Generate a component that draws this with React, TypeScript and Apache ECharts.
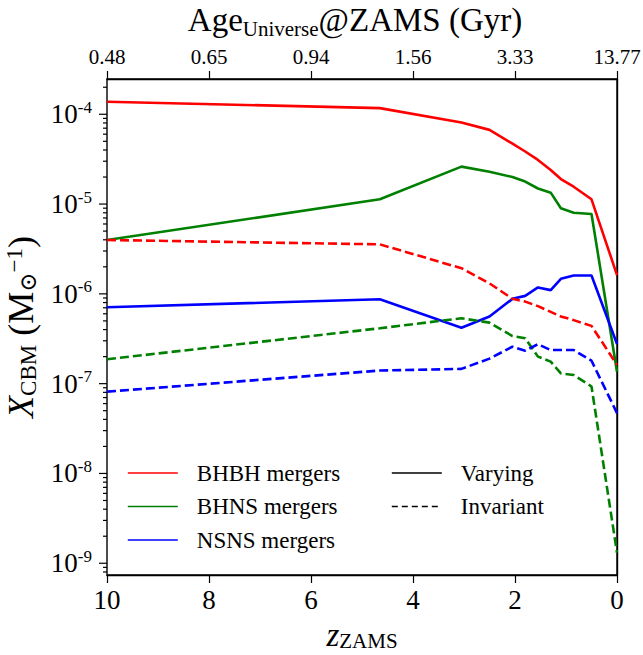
import React, { useEffect, useRef } from 'react';
import * as echarts from 'echarts';

// redshift at ZAMS of each sampled point
const zValues = [10, 4.65, 3.05, 2.5, 2.05, 1.8, 1.55, 1.3, 1.1, 0.85, 0.5, 0];

// X_CBM (Msun^-1)
const bhbhVarying = [1.38e-4, 1.17e-4, 8.1e-5, 6.7e-5, 4.7e-5, 3.85e-5, 3.1e-5, 2.4e-5, 1.9e-5, 1.56e-5, 1.13e-5, 1.62e-6];
const bhnsVarying = [3.98e-6, 1.13e-5, 2.61e-5, 2.29e-5, 2.0e-5, 1.78e-5, 1.49e-5, 1.34e-5, 8.97e-6, 8.0e-6, 7.76e-6, 1.36e-7];
const nsnsVarying = [7.1e-7, 8.7e-7, 4.2e-7, 5.6e-7, 8.8e-7, 9.5e-7, 1.18e-6, 1.1e-6, 1.47e-6, 1.6e-6, 1.6e-6, 2.77e-7];
const bhbhInvariant = [3.98e-6, 3.56e-6, 1.93e-6, 1.31e-6, 8.8e-7, 8.2e-7, 7.3e-7, 6.3e-7, 5.6e-7, 5.1e-7, 4.4e-7, 1.62e-7];
const bhnsInvariant = [1.87e-7, 4.14e-7, 5.35e-7, 4.78e-7, 3.39e-7, 3.2e-7, 2.0e-7, 1.76e-7, 1.3e-7, 1.25e-7, 9.3e-8, 1.31e-9];
const nsnsInvariant = [8.15e-8, 1.4e-7, 1.46e-7, 1.9e-7, 2.58e-7, 2.33e-7, 2.75e-7, 2.37e-7, 2.37e-7, 2.37e-7, 1.8e-7, 4.7e-8];

// axis ticks
const zTicks = [10, 8, 6, 4, 2, 0];
const ageTickLabels = ['0.48', '0.65', '0.94', '1.56', '3.33', '13.77'];
const yMin = 7.4e-10;
const yMax = 2.47e-4;
const majorDecades = [-9, -8, -7, -6, -5, -4];
const minorDecades = [-10, -9, -8, -7, -6, -5, -4];
const minorMultipliers = [2, 3, 4, 5, 6, 7, 8, 9];

const serif = 'Liberation Serif, DejaVu Serif, serif';

function richSet(main: number, small: number, subPad: number, supPad: number) {
  return {
    n: { fontSize: main, fontFamily: serif, color: '#000', lineHeight: main },
    it: { fontSize: main, fontFamily: serif, fontStyle: 'italic', color: '#000', lineHeight: main },
    sub: { fontSize: small, fontFamily: serif, color: '#000', lineHeight: small, padding: [subPad, 0, 0, 0] },
    sup: { fontSize: small, fontFamily: serif, color: '#000', lineHeight: small, padding: [0, 0, supPad, 0] },
  };
}

export default function App() {
  const ref = useRef<HTMLDivElement>(null);

  useEffect(() => {
    if (!ref.current) return;
    const chart = echarts.init(ref.current, null, { renderer: 'svg' });

    const tickMarks: number[][] = [];
    majorDecades.forEach((d) => tickMarks.push([10, Math.pow(10, d), 8]));
    minorDecades.forEach((d) =>
      minorMultipliers.forEach((m) => {
        const v = m * Math.pow(10, d);
        if (v > yMin && v < yMax) tickMarks.push([10, v, 4]);
      })
    );

    const line = (name: string, data: number[], color: string, dashed: boolean) => ({
      type: 'line',
      name,
      data: zValues.map((z, i) => [z, data[i]]),
      xAxisIndex: 0,
      yAxisIndex: 0,
      symbol: 'none',
      showSymbol: false,
      lineStyle: { color, width: 2.6, type: dashed ? [9, 4] : 'solid' },
      itemStyle: { color },
      silent: true,
    });

    const legendText = {
      fontFamily: serif,
      fontSize: 23,
      color: '#000',
      lineHeight: 24,
      padding: [0, 0, 0, 14],
    };

    chart.setOption({
      animation: false,
      backgroundColor: '#fff',
      grid: {
        left: 107,
        right: 26,
        top: 79,
        bottom: 80,
        show: true,
        borderColor: '#000',
        borderWidth: 1.4,
        backgroundColor: 'transparent',
        containLabel: false,
        outerBoundsMode: 'none',
      },
      legend: [
        {
          orient: 'vertical',
          left: 122,
          top: 456,
          itemWidth: 50,
          itemHeight: 14,
          itemGap: 9.5,
          selectedMode: false,
          data: ['BHBH mergers', 'BHNS mergers', 'NSNS mergers'],
          textStyle: legendText,
          lineStyle: { width: 1.6 },
          itemStyle: { opacity: 0 },
        },
        {
          orient: 'vertical',
          left: 386,
          top: 456,
          itemWidth: 50,
          itemHeight: 14,
          itemGap: 9.5,
          selectedMode: false,
          data: ['Varying', 'Invariant'],
          textStyle: legendText,
          lineStyle: { width: 1.6 },
          itemStyle: { opacity: 0 },
        },
      ],
      xAxis: [
        {
          type: 'value',
          position: 'bottom',
          min: 0,
          max: 10,
          interval: 2,
          inverse: true,
          name: '{it|z}{sub|ZAMS}',
          nameLocation: 'middle',
          nameGap: 34,
          nameTextStyle: { rich: richSet(33, 21, 13, 0) },
          axisLine: { show: true, lineStyle: { color: '#000', width: 1.4 } },
          axisTick: { show: true, inside: false, length: 8, lineStyle: { color: '#000', width: 1.2 } },
          axisLabel: { fontFamily: serif, fontSize: 27, color: '#000', margin: 11 },
          splitLine: { show: false },
        },
        {
          type: 'value',
          position: 'top',
          min: 0,
          max: 10,
          interval: 2,
          inverse: true,
          name: '{n|Age}{sub|Universe}{n|@ZAMS (Gyr)}',
          nameLocation: 'middle',
          nameGap: 43,
          nameTextStyle: { rich: richSet(33, 21, 18, 0), padding: [0, 14, 0, 0] },
          axisLine: { show: true, lineStyle: { color: '#000', width: 1.4 } },
          axisTick: { show: true, inside: false, length: 8, lineStyle: { color: '#000', width: 1.2 } },
          axisLabel: {
            fontFamily: serif,
            fontSize: 21,
            color: '#000',
            margin: 12,
            formatter: (v: number) => {
              const i = zTicks.indexOf(Math.round(v));
              return i >= 0 ? ageTickLabels[i] : '';
            },
          },
          splitLine: { show: false },
        },
      ],
      yAxis: [
        {
          type: 'log',
          logBase: 10,
          min: yMin,
          max: yMax,
          name: '{it|X}{sub|CBM}{n| (M}{sub|⊙}{sup|−1}{n|)}',
          nameLocation: 'middle',
          nameRotate: 90,
          nameGap: 41,
          nameTextStyle: { rich: richSet(36, 23, 14, 14) },
          axisLine: { show: true, lineStyle: { color: '#000', width: 1.4 } },
          axisTick: { show: false },
          axisLabel: {
            margin: 15,
            formatter: (v: number) => {
              const l = Math.log10(v);
              const e = Math.round(l);
              if (Math.abs(l - e) > 1e-6) return '';
              return '{b|10}{s|' + e + '}';
            },
            rich: {
              b: { fontFamily: serif, fontSize: 27, color: '#000', lineHeight: 27 },
              s: { fontFamily: serif, fontSize: 17, color: '#000', lineHeight: 17, padding: [0, 0, 14, 0] },
            },
          },
          splitLine: { show: false },
        },
      ],
      series: [
        line('BHBH mergers', bhbhVarying, '#ff0000', false),
        line('BHNS mergers', bhnsVarying, '#008000', false),
        line('NSNS mergers', nsnsVarying, '#0000ff', false),
        line('BHBH invariant', bhbhInvariant, '#ff0000', true),
        line('BHNS invariant', bhnsInvariant, '#008000', true),
        line('NSNS invariant', nsnsInvariant, '#0000ff', true),
        { type: 'line', name: 'Varying', data: [], symbol: 'none', lineStyle: { color: '#000', width: 1.6 }, itemStyle: { color: '#000' } },
        { type: 'line', name: 'Invariant', data: [], symbol: 'none', lineStyle: { color: '#000', width: 1.6, type: [6, 4] }, itemStyle: { color: '#000' } },
        {
          type: 'custom',
          name: 'yticks',
          silent: true,
          clip: false,
          data: tickMarks,
          renderItem: (_p: any, api: any) => {
            const p = api.coord([api.value(0), api.value(1)]);
            const len = api.value(2);
            return {
              type: 'line',
              shape: { x1: p[0] - len, y1: p[1], x2: p[0], y2: p[1] },
              style: { stroke: '#000', lineWidth: 1.2 },
            };
          },
        },
      ],
    });

    return () => chart.dispose();
  }, []);

  return <div ref={ref} style={{ position: 'fixed', left: 0, top: 0, width: 643, height: 655, background: '#fff' }} />;
}
